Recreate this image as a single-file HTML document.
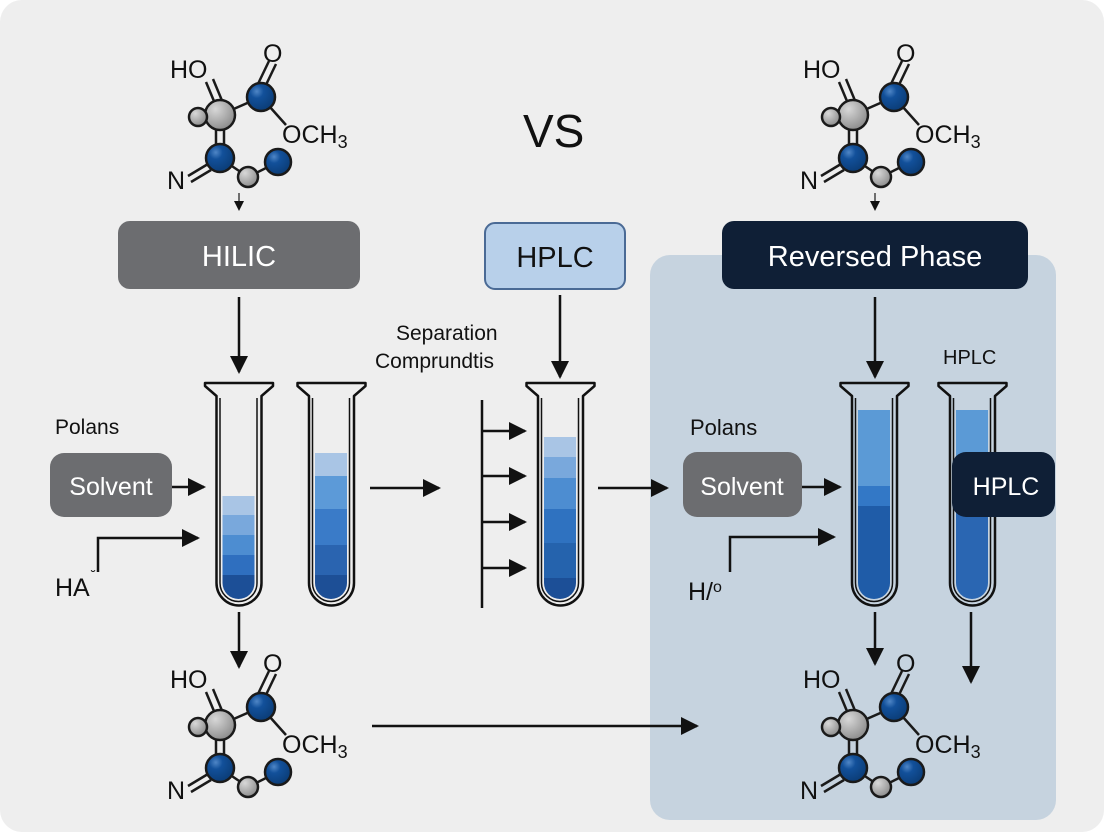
<!DOCTYPE html>
<html><head><meta charset="utf-8"><style>
html,body{margin:0;padding:0;background:#fff}
svg{display:block}
text{font-family:"Liberation Sans",sans-serif}
</style></head><body>
<svg width="1104" height="832" viewBox="0 0 1104 832" xmlns="http://www.w3.org/2000/svg">
<defs>
<marker id="ah" markerWidth="10" markerHeight="10" refX="8" refY="5" orient="auto" markerUnits="userSpaceOnUse"><path d="M0,0 L10,5 L0,10 Z" fill="#111"/></marker>
<marker id="ahb" markerWidth="18" markerHeight="18" refX="16" refY="9" orient="auto" markerUnits="userSpaceOnUse"><path d="M0,0 L18,9 L0,18 Z" fill="#111"/></marker>
<radialGradient id="gb" cx="0.35" cy="0.3" r="0.7"><stop offset="0" stop-color="#4f86c6"/><stop offset="0.35" stop-color="#12509a"/><stop offset="1" stop-color="#0b3d78"/></radialGradient>
<radialGradient id="gg" cx="0.35" cy="0.3" r="0.7"><stop offset="0" stop-color="#d8d8d8"/><stop offset="1" stop-color="#8f8f8f"/></radialGradient>
<clipPath id="c1"><path d="M222.5,392 V583 A16 16 0 0 0 254.5,583 V392 Z"/></clipPath>
<clipPath id="c2"><path d="M315,392 V583 A16 16 0 0 0 347,583 V392 Z"/></clipPath>
<clipPath id="c3"><path d="M544,392 V583 A16 16 0 0 0 576,583 V392 Z"/></clipPath>
<clipPath id="c4"><path d="M858,392 V583 A16 16 0 0 0 890,583 V392 Z"/></clipPath>
<clipPath id="c5"><path d="M956,392 V583 A16 16 0 0 0 988,583 V392 Z"/></clipPath>
</defs>
<rect x="0" y="0" width="1104" height="832" rx="22" fill="#eeeeee"/>
<rect x="650" y="255" width="406" height="565" rx="20" fill="#c6d3df"/>

<g transform="translate(150,30)" stroke="#1a1a1a" stroke-width="2.5">
<line x1="56" y1="52" x2="66" y2="76"/><line x1="63" y1="49" x2="73" y2="73"/>
<line x1="70" y1="85" x2="111" y2="67"/>
<line x1="107" y1="56" x2="119" y2="31"/><line x1="114" y1="59" x2="126" y2="34"/>
<line x1="111" y1="67" x2="136" y2="95"/>
<line x1="66" y1="98" x2="66" y2="116"/><line x1="74" y1="98" x2="74" y2="116"/>
<line x1="38" y1="146" x2="58" y2="134"/><line x1="41" y1="152" x2="61" y2="140"/>
<line x1="70" y1="128" x2="98" y2="147"/><line x1="98" y1="147" x2="128" y2="132"/>
<circle cx="70" cy="85" r="15" fill="url(#gg)"/>
<circle cx="48" cy="87" r="9" fill="url(#gg)"/>
<circle cx="111" cy="67" r="14" fill="url(#gb)"/>
<circle cx="70" cy="128" r="14" fill="url(#gb)"/>
<circle cx="98" cy="147" r="10" fill="url(#gg)"/>
<circle cx="128" cy="132" r="13" fill="url(#gb)"/>
<g stroke="none" fill="#111" font-size="25"><text x="20" y="48">HO</text><text x="113" y="32">O</text><text x="132" y="113">OCH<tspan font-size="18" dy="5">3</tspan></text><text x="17" y="159">N</text></g>
</g>
<g transform="translate(783,30)" stroke="#1a1a1a" stroke-width="2.5">
<line x1="56" y1="52" x2="66" y2="76"/><line x1="63" y1="49" x2="73" y2="73"/>
<line x1="70" y1="85" x2="111" y2="67"/>
<line x1="107" y1="56" x2="119" y2="31"/><line x1="114" y1="59" x2="126" y2="34"/>
<line x1="111" y1="67" x2="136" y2="95"/>
<line x1="66" y1="98" x2="66" y2="116"/><line x1="74" y1="98" x2="74" y2="116"/>
<line x1="38" y1="146" x2="58" y2="134"/><line x1="41" y1="152" x2="61" y2="140"/>
<line x1="70" y1="128" x2="98" y2="147"/><line x1="98" y1="147" x2="128" y2="132"/>
<circle cx="70" cy="85" r="15" fill="url(#gg)"/>
<circle cx="48" cy="87" r="9" fill="url(#gg)"/>
<circle cx="111" cy="67" r="14" fill="url(#gb)"/>
<circle cx="70" cy="128" r="14" fill="url(#gb)"/>
<circle cx="98" cy="147" r="10" fill="url(#gg)"/>
<circle cx="128" cy="132" r="13" fill="url(#gb)"/>
<g stroke="none" fill="#111" font-size="25"><text x="20" y="48">HO</text><text x="113" y="32">O</text><text x="132" y="113">OCH<tspan font-size="18" dy="5">3</tspan></text><text x="17" y="159">N</text></g>
</g>
<g transform="translate(150,640)" stroke="#1a1a1a" stroke-width="2.5">
<line x1="56" y1="52" x2="66" y2="76"/><line x1="63" y1="49" x2="73" y2="73"/>
<line x1="70" y1="85" x2="111" y2="67"/>
<line x1="107" y1="56" x2="119" y2="31"/><line x1="114" y1="59" x2="126" y2="34"/>
<line x1="111" y1="67" x2="136" y2="95"/>
<line x1="66" y1="98" x2="66" y2="116"/><line x1="74" y1="98" x2="74" y2="116"/>
<line x1="38" y1="146" x2="58" y2="134"/><line x1="41" y1="152" x2="61" y2="140"/>
<line x1="70" y1="128" x2="98" y2="147"/><line x1="98" y1="147" x2="128" y2="132"/>
<circle cx="70" cy="85" r="15" fill="url(#gg)"/>
<circle cx="48" cy="87" r="9" fill="url(#gg)"/>
<circle cx="111" cy="67" r="14" fill="url(#gb)"/>
<circle cx="70" cy="128" r="14" fill="url(#gb)"/>
<circle cx="98" cy="147" r="10" fill="url(#gg)"/>
<circle cx="128" cy="132" r="13" fill="url(#gb)"/>
<g stroke="none" fill="#111" font-size="25"><text x="20" y="48">HO</text><text x="113" y="32">O</text><text x="132" y="113">OCH<tspan font-size="18" dy="5">3</tspan></text><text x="17" y="159">N</text></g>
</g>
<g transform="translate(783,640)" stroke="#1a1a1a" stroke-width="2.5">
<line x1="56" y1="52" x2="66" y2="76"/><line x1="63" y1="49" x2="73" y2="73"/>
<line x1="70" y1="85" x2="111" y2="67"/>
<line x1="107" y1="56" x2="119" y2="31"/><line x1="114" y1="59" x2="126" y2="34"/>
<line x1="111" y1="67" x2="136" y2="95"/>
<line x1="66" y1="98" x2="66" y2="116"/><line x1="74" y1="98" x2="74" y2="116"/>
<line x1="38" y1="146" x2="58" y2="134"/><line x1="41" y1="152" x2="61" y2="140"/>
<line x1="70" y1="128" x2="98" y2="147"/><line x1="98" y1="147" x2="128" y2="132"/>
<circle cx="70" cy="85" r="15" fill="url(#gg)"/>
<circle cx="48" cy="87" r="9" fill="url(#gg)"/>
<circle cx="111" cy="67" r="14" fill="url(#gb)"/>
<circle cx="70" cy="128" r="14" fill="url(#gb)"/>
<circle cx="98" cy="147" r="10" fill="url(#gg)"/>
<circle cx="128" cy="132" r="13" fill="url(#gb)"/>
<g stroke="none" fill="#111" font-size="25"><text x="20" y="48">HO</text><text x="113" y="32">O</text><text x="132" y="113">OCH<tspan font-size="18" dy="5">3</tspan></text><text x="17" y="159">N</text></g>
</g>
<line x1="239" y1="193" x2="239" y2="209" stroke="#444" stroke-width="1.5" marker-end="url(#ah)"/>
<line x1="875" y1="193" x2="875" y2="209" stroke="#444" stroke-width="1.5" marker-end="url(#ah)"/>

<text x="523" y="147" font-size="46" fill="#111">VS</text>

<rect x="118" y="221" width="242" height="68" rx="12" fill="#6c6d70"/>
<text x="239" y="266" font-size="29" fill="#fff" text-anchor="middle">HILIC</text>
<rect x="485" y="223" width="140" height="66" rx="10" fill="#b8d0ea" stroke="#4a6a95" stroke-width="2"/>
<text x="555" y="267" font-size="29" fill="#111" text-anchor="middle">HPLC</text>
<rect x="722" y="221" width="306" height="68" rx="12" fill="#0f1f36"/>
<text x="875" y="266" font-size="29" fill="#fff" text-anchor="middle">Reversed Phase</text>

<g stroke="#111" stroke-width="2.5" fill="none">
<line x1="239" y1="297" x2="239" y2="372" marker-end="url(#ahb)"/>
<line x1="560" y1="295" x2="560" y2="377" marker-end="url(#ahb)"/>
<line x1="875" y1="297" x2="875" y2="377" marker-end="url(#ahb)"/>
<line x1="239" y1="612" x2="239" y2="667" marker-end="url(#ahb)"/>
<line x1="875" y1="612" x2="875" y2="664" marker-end="url(#ahb)"/>
<line x1="971" y1="612" x2="971" y2="682" marker-end="url(#ahb)"/>
<line x1="372" y1="726" x2="697" y2="726" marker-end="url(#ahb)"/>
<line x1="370" y1="488" x2="439" y2="488" marker-end="url(#ahb)"/>
<line x1="598" y1="488" x2="667" y2="488" marker-end="url(#ahb)"/>
<line x1="482" y1="400" x2="482" y2="608"/>
<line x1="482" y1="431" x2="525" y2="431" marker-end="url(#ahb)"/>
<line x1="482" y1="476" x2="525" y2="476" marker-end="url(#ahb)"/>
<line x1="482" y1="522" x2="525" y2="522" marker-end="url(#ahb)"/>
<line x1="482" y1="568" x2="525" y2="568" marker-end="url(#ahb)"/>
<line x1="172" y1="487" x2="204" y2="487" marker-end="url(#ahb)"/>
<path d="M98,572 V538 H198" marker-end="url(#ahb)"/>
<line x1="800" y1="487" x2="840" y2="487" marker-end="url(#ahb)"/>
<path d="M730,572 V537 H834" marker-end="url(#ahb)"/>
</g>

<g clip-path="url(#c1)">
<rect x="220" y="496" width="40" height="19" fill="#a9c5e5"/><rect x="220" y="515" width="40" height="20" fill="#79a8dc"/><rect x="220" y="535" width="40" height="20" fill="#4d8dd1"/><rect x="220" y="555" width="40" height="20" fill="#2f6fbf"/><rect x="220" y="575" width="40" height="30" fill="#1c4f97"/>
</g>
<g clip-path="url(#c2)">
<rect x="312" y="453" width="40" height="23" fill="#a9c5e5"/><rect x="312" y="476" width="40" height="33" fill="#5c9ad8"/><rect x="312" y="509" width="40" height="36" fill="#3a7bc8"/><rect x="312" y="545" width="40" height="30" fill="#2a64b0"/><rect x="312" y="575" width="40" height="30" fill="#1d4f96"/>
</g>
<g clip-path="url(#c3)">
<rect x="540" y="437" width="40" height="20" fill="#a9c5e5"/><rect x="540" y="457" width="40" height="21" fill="#79a8dc"/><rect x="540" y="478" width="40" height="31" fill="#4d8dd1"/><rect x="540" y="509" width="40" height="34" fill="#2f72c0"/><rect x="540" y="543" width="40" height="35" fill="#2563ad"/><rect x="540" y="578" width="40" height="30" fill="#1c4f97"/>
</g>
<g clip-path="url(#c4)">
<rect x="855" y="410" width="40" height="76" fill="#5b9ad6"/><rect x="855" y="486" width="40" height="20" fill="#3378c6"/><rect x="855" y="506" width="40" height="100" fill="#1f5ca8"/>
</g>
<g clip-path="url(#c5)">
<rect x="953" y="410" width="40" height="50" fill="#5b9ad6"/><rect x="953" y="460" width="40" height="146" fill="#2a66b2"/>
</g>

<g fill="none" stroke="#111" stroke-width="2.5" stroke-linejoin="round">
<path d="M216.5,396 L205,386 V383 H273 V386 L261.5,396 V583 A22.5 22.5 0 0 1 216.5,583 Z"/>
<path d="M220,398 V583 A18.5 18.5 0 0 0 257,583 V398" stroke-width="1.5"/>
<path d="M309,396 L297.5,386 V383 H365.5 V386 L354,396 V583 A22.5 22.5 0 0 1 309,583 Z"/>
<path d="M312.5,398 V583 A18.5 18.5 0 0 0 349.5,583 V398" stroke-width="1.5"/>
<path d="M538,396 L526.5,386 V383 H594.5 V386 L583,396 V583 A22.5 22.5 0 0 1 538,583 Z"/>
<path d="M541.5,398 V583 A18.5 18.5 0 0 0 578.5,583 V398" stroke-width="1.5"/>
<path d="M852,396 L840.5,386 V383 H908.5 V386 L897,396 V583 A22.5 22.5 0 0 1 852,583 Z"/>
<path d="M855.5,398 V583 A18.5 18.5 0 0 0 892.5,583 V398" stroke-width="1.5"/>
<path d="M950,396 L938.5,386 V383 H1006.5 V386 L995,396 V583 A22.5 22.5 0 0 1 950,583 Z"/>
<path d="M953.5,398 V583 A18.5 18.5 0 0 0 990.5,583 V398" stroke-width="1.5"/>
</g>

<text x="396" y="340" font-size="21" fill="#111">Separation</text>
<text x="375" y="368" font-size="21" fill="#111">Comprundtis</text>
<text x="55" y="434" font-size="21" fill="#111">Polans</text>
<rect x="50" y="453" width="122" height="64" rx="14" fill="#6c6d70"/>
<text x="111" y="495" font-size="25" fill="#fff" text-anchor="middle">Solvent</text>
<text x="55" y="596" font-size="25" fill="#111">HA</text><text x="91" y="580" font-size="14" fill="#111">˘</text>
<text x="690" y="435" font-size="22" fill="#111">Polans</text>
<rect x="683" y="452" width="119" height="65" rx="14" fill="#6c6d70"/>
<text x="742" y="495" font-size="25" fill="#fff" text-anchor="middle">Solvent</text>
<text x="688" y="600" font-size="25" fill="#111">H/<tspan font-size="16" dy="-8">o</tspan></text>
<text x="943" y="364" font-size="20" fill="#111">HPLC</text>
<rect x="952" y="452" width="103" height="65" rx="14" fill="#0f1f36"/>
<text x="1006" y="495" font-size="25" fill="#fff" text-anchor="middle">HPLC</text>
</svg>
</body></html>
